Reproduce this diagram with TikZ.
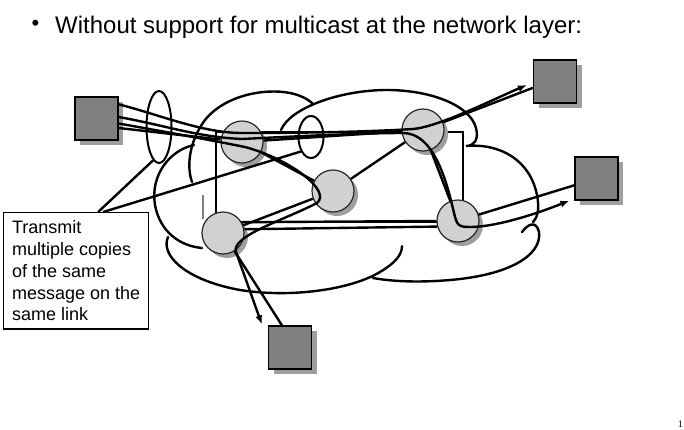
\documentclass[tikz,border=0pt]{standalone}
\usepackage{fontspec}
\setmainfont{Liberation Sans}
\newfontfamily\pagefont{Liberation Serif}
\usetikzlibrary{calc,shapes.geometric,shadows,arrows.meta}
\definecolor{hostgray}{gray}{0.5}
\definecolor{routergray}{gray}{0.82}
\definecolor{shadegray}{gray}{0.62}
\begin{document}
\begin{tikzpicture}[x=1pt,y=-1pt,
  host/.style={draw,line width=1.3pt,fill=hostgray,minimum size=43,inner sep=0,
    drop shadow={shadow xshift=5pt,shadow yshift=-5pt,fill=shadegray,opacity=1}},
  router/.style={circle,draw=black!85,line width=1.2pt,fill=routergray,minimum size=42,inner sep=0,
    drop shadow={shadow xshift=4pt,shadow yshift=-4pt,fill=shadegray,opacity=1}},
  cloud/.style={line width=2.4pt,line cap=round},
  link/.style={line width=2.4pt},
  copy/.style={line width=2.4pt,-{Latex[length=9pt,width=7pt]}},
  loop/.style={draw,ellipse,line width=2pt,inner sep=0}]
\useasboundingbox (0,0) rectangle (684,429);
\node[font=\fontsize{22}{24}\selectfont,inner sep=0] (dot) at (35.5,25.5) {•};
\node[anchor=base west,font=\fontsize{24}{28}\selectfont,inner sep=0] (title) at (55,33) {Without support for multicast at the network layer:};
\draw[cloud] (192,182) .. controls (186,165) and (190,140) .. (205,120)
  .. controls (225,95) and (265,88) .. (290,93) .. controls (300,95) and (308,99) .. (313,104);
\draw[cloud] (281,130) .. controls (290,108) and (340,90) .. (387,90)
  .. controls (430,90) and (470,105) .. (476,128) .. controls (479,140) and (474,146) .. (466,146)
  .. controls (500,143) and (530,160) .. (537,195) .. controls (540,210) and (537,218) .. (533,222);
\draw[cloud] (522,232) .. controls (528,224) and (536,220) .. (539,232)
  .. controls (542,255) and (510,275) .. (450,280) .. controls (415,283) and (390,281) .. (373,278);
\draw[cloud] (168,237) .. controls (160,255) and (185,280) .. (240,290)
  .. controls (290,298) and (350,290) .. (380,272) .. controls (395,263) and (402,255) .. (402,246);
\draw[cloud] (194,145) .. controls (170,150) and (150,175) .. (155,205)
  .. controls (160,232) and (180,246) .. (202,248);
\draw[line width=1.2pt] (216,222) rectangle (463,132);
\draw[gray,line width=1.2pt] (203,195) -- (203,219);
\node[host] (h1) at (96.5,118.5) {};
\node[host] (h2) at (555,81.5) {};
\node[host] (h3) at (596.5,178.5) {};
\node[host] (h4) at (290,347.5) {};
\node[router] (r1) at (242,142) {};
\node[router] (r2) at (333,191) {};
\node[router] (r3) at (423,130) {};
\node[router] (r4) at (458,221) {};
\node[router] (r5) at (223,233) {};
\coordinate (t2) at ($(h2.west)+(-6,3.5)$);
\coordinate (t3) at ($(h3.south west)+(-5,0)$);
\coordinate (t4) at ($(h4.north west)+(-6,-1)$);
\draw[link] ($(h1.east)+(0,9.5)$) -- (r1);
\draw[link] (r1) -- (r3);
\draw[link] (r1) -- (r2);
\draw[link] (r2) -- (r3);
\draw[link] (r2) -- (r5);
\draw[link] (r3) -- (r4);
\draw[link] (r5.30) -- (r4.180);
\draw[link] (r5.10) -- (r4.195);
\draw[link] (r3) -- (h2.196);
\draw[link] (r4) -- (h3.197);
\draw[link] (r5) -- (h4.110);
\draw[copy] ($(h1.north east)+(0,8)$) .. controls +(40,10) and +(-40,0) .. ($(r1)+(0,-9)$)
  .. controls +(60,0) and +(-50,3) .. ($(r3)+(-10,-1)$) .. controls +(25,-2) and +(-35,15) .. (t2);
\draw[copy] ($(h1.east)+(0,-1.5)$) .. controls +(45,8) and +(-45,-2) .. ($(r1)+(0,-3)$)
  .. controls +(60,-3) and +(-40,0) .. ($(r3)+(-20,3)$) .. controls +(30,0) and +(-8,-35) .. ($(r4)+(-4,-8)$)
  .. controls +(3,12) and +(-12,0) .. ($(r4)+(12,6)$) .. controls +(25,0) and +(-35,14) .. (t3);
\draw[copy] ($(h1.east)+(0,5)$) .. controls +(45,8) and +(-40,-8) .. ($(r1)+(3,5)$)
  .. controls +(45,12) and +(15,-12) .. ($(r2)+(-16,12)$)
  .. controls +(-35,18) and +(-5,-16) .. ($(r5)+(13,19)$) -- (t4);
\node[loop,minimum width=25,minimum height=72] (e1) at (159,127) {};
\node[loop,minimum width=25,minimum height=42] (e2) at (311,137) {};
\node[draw,line width=1.3pt,fill=white,anchor=north west,align=left,minimum width=145,inner ysep=8,
  font=\fontsize{18}{21.8}\selectfont] (note) at (3,212) {Transmit\\multiple copies\\of the same\\message on the\\same link};
\draw[link] ($(note.north)+(22,0)$) -- (e1.260);
\draw[link] ($(note.north)+(27,0)$) -- (e2.235);
\node[anchor=base east,font=\pagefont\fontsize{10}{12}\selectfont,inner sep=0] (pageno) at (683,427) {1};
\end{tikzpicture}
\end{document}
